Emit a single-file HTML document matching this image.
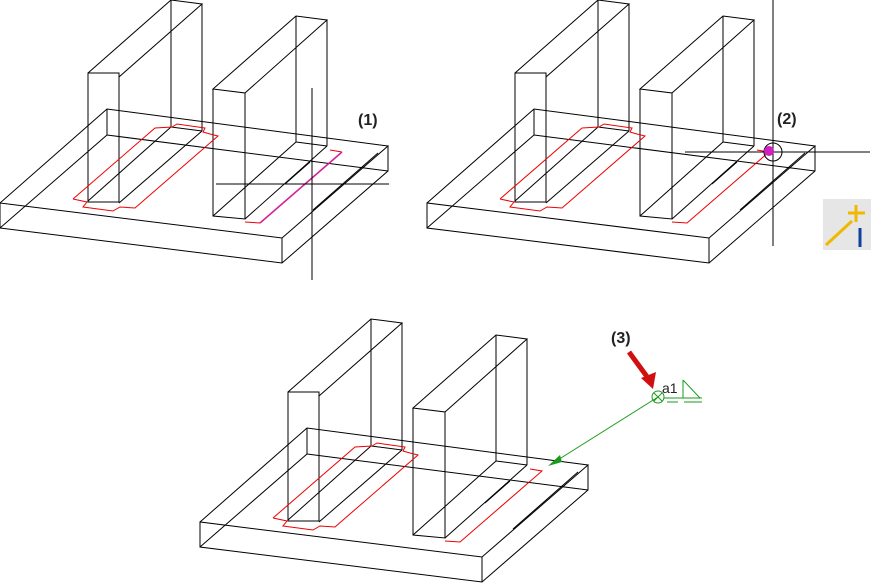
<!DOCTYPE html>
<html><head><meta charset="utf-8"><style>
html,body{margin:0;padding:0;background:#fff;}
svg{display:block;}
text{font-family:"Liberation Sans",Arial,sans-serif;}
</style></head><body>
<svg width="873" height="583" viewBox="0 0 873 583" xmlns="http://www.w3.org/2000/svg">
<defs>
<g id="base" fill="none" stroke="#000" stroke-width="1">
  <!-- slab -->
  <polyline points="0,203 107,109 388,146 282,238 0,203 0,228 282,263 388,171 388,146"/>
  <line x1="282" y1="238" x2="282" y2="263"/>
  <line x1="107" y1="109" x2="107" y2="135"/>
  <line x1="0" y1="228" x2="107" y2="135"/>
  <line x1="107" y1="135" x2="388" y2="171"/>
  <!-- wall 1 -->
  <rect x="88" y="73" width="31" height="129"/>
  <polyline points="88,73 171,0 202,4 119,77"/>
  <line x1="171" y1="0" x2="171" y2="127"/>
  <line x1="202" y1="4" x2="202" y2="131"/>
  <line x1="88" y1="201" x2="171" y2="127"/>
  <line x1="119" y1="203" x2="202" y2="131"/>
  <line x1="171" y1="127" x2="202" y2="131"/>
  <!-- wall 2 -->
  <polyline points="213,89 213,216 245,219 245,93 213,89 296,16 327,20 245,93"/>
  <line x1="296" y1="16" x2="296" y2="142"/>
  <line x1="327" y1="20" x2="327" y2="146"/>
  <line x1="296" y1="142" x2="327" y2="146"/>
  <line x1="213" y1="216" x2="296" y2="142"/>
  <line x1="245" y1="219" x2="327" y2="146"/>
  <!-- hidden diagonals -->
  <line x1="285" y1="184" x2="310" y2="162"/>
  <line x1="313" y1="210" x2="378" y2="153"/>
  <!-- red footprint wall1 -->
  <polyline stroke="#e00" points="73,199 155,128 172,127 177,124 205,128 203,132 210,134 218,136 135,208 120,207 113,211 83,207 87,202 73,199"/>
</g>
</defs>

<!-- Drawing 1 -->
<use href="#base"/>
<polyline fill="none" stroke="#e00" points="245,222 260,223"/>
<polyline fill="none" stroke="#e00" points="330,150 342,152"/>
<line x1="260" y1="223" x2="342" y2="152" stroke="#d0209a" stroke-width="1.5"/>
<line x1="312" y1="88" x2="312" y2="280" stroke="#000"/>
<line x1="216" y1="184" x2="389" y2="184" stroke="#000"/>
<text x="358" y="125" font-size="16" font-weight="bold" fill="#222">(1)</text>

<!-- Drawing 2 -->
<use href="#base" transform="translate(427,0)"/>
<polyline fill="none" stroke="#e00" points="672,222 687,223 769,152 757,150"/>
<line x1="773" y1="0" x2="773" y2="246" stroke="#000"/>
<line x1="685" y1="152" x2="870" y2="152" stroke="#000"/>
<circle cx="773" cy="152" r="9" fill="none" stroke="#000"/>
<circle cx="769" cy="151" r="5" fill="#d020c0"/>
<text x="777" y="124" font-size="16" font-weight="bold" fill="#222">(2)</text>
<rect x="823" y="199" width="48" height="51" fill="#e6e6e6"/>
<line x1="826" y1="245" x2="852" y2="221" stroke="#f0b800" stroke-width="3"/>
<line x1="848" y1="213" x2="865" y2="213" stroke="#f0b800" stroke-width="3"/>
<line x1="856" y1="205" x2="856" y2="222" stroke="#f0b800" stroke-width="3"/>
<line x1="860" y1="228" x2="860" y2="247" stroke="#1040a0" stroke-width="3"/>

<!-- Drawing 3 -->
<use href="#base" transform="translate(200,319)"/>
<polyline fill="none" stroke="#e00" points="445,541 460,542 542,471 530,469"/>
<line x1="658" y1="397" x2="553" y2="463" stroke="#1a9a1a"/>
<polygon points="548,466 560,455 562,462" fill="#1a9a1a"/>
<circle cx="658" cy="397" r="6" fill="none" stroke="#1a9a1a"/>
<line x1="654" y1="393" x2="662" y2="401" stroke="#1a9a1a"/>
<line x1="662" y1="393" x2="654" y2="401" stroke="#1a9a1a"/>
<line x1="664" y1="398" x2="702" y2="398" stroke="#1a9a1a"/>
<line x1="667" y1="402" x2="678" y2="402" stroke="#1a9a1a"/>
<line x1="684" y1="402" x2="702" y2="402" stroke="#1a9a1a"/>
<polyline fill="none" stroke="#1a9a1a" points="683,380 683,398 700,398 683,380"/>
<text x="662" y="393" font-size="14" fill="#222">a1</text>
<text x="611" y="343" font-size="16" font-weight="bold" fill="#222">(3)</text>
<line x1="629" y1="352" x2="648" y2="378" stroke="#d01010" stroke-width="5"/>
<polygon points="641,378 656,372 653,389" fill="#d01010"/>
</svg>
</body></html>
